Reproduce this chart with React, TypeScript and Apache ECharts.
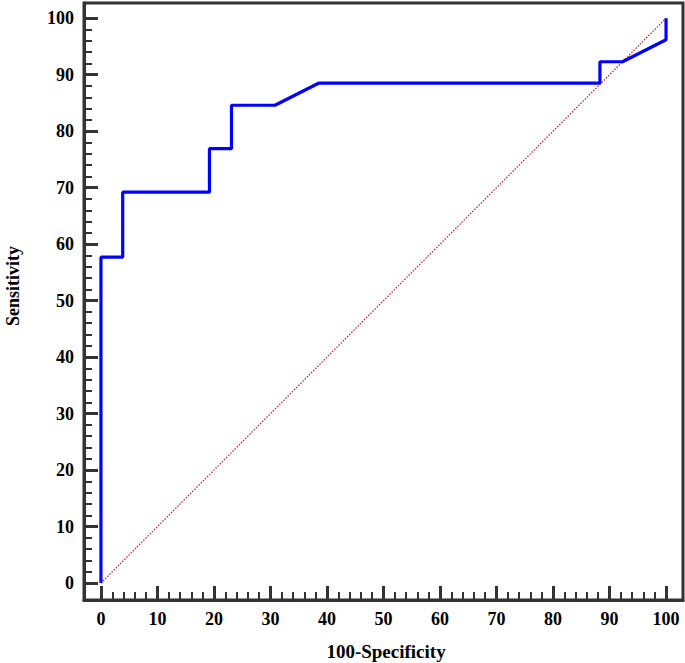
import React, { useEffect, useRef } from "react";
import * as echarts from "echarts";

const rocFpr = [0, 0, 3.85, 3.85, 19.2, 19.2, 23.1, 23.1, 30.8, 38.5, 88.3, 88.3, 92.3, 100, 100];
const rocTpr = [0, 57.7, 57.7, 69.2, 69.2, 76.9, 76.9, 84.6, 84.6, 88.5, 88.5, 92.3, 92.3, 96.2, 100];
const diagX = [0, 100];
const diagY = [0, 100];
const majorTicks = [0, 10, 20, 30, 40, 50, 60, 70, 80, 90, 100];
const minorTicks = [2, 4, 6, 8, 12, 14, 16, 18, 22, 24, 26, 28, 32, 34, 36, 38, 42, 44, 46, 48, 52, 54, 56, 58, 62, 64, 66, 68, 72, 74, 76, 78, 82, 84, 86, 88, 92, 94, 96, 98];
const xTitle = "100-Specificity";
const yTitle = "Sensitivity";

const FONT = "'Liberation Serif', 'Times New Roman', serif";
const AXC = "#333333";

export default function App() {
  const ref = useRef<HTMLDivElement>(null);
  useEffect(() => {
    document.body.style.margin = "0";
    const chart = echarts.init(ref.current!, undefined, { renderer: "svg" });
    const labelStyle = {
      fontFamily: FONT,
      fontWeight: "bold" as const,
      fontSize: 18,
      color: "#000",
    };
    const mkMajor = (pos: string, isX: boolean) => ({
      type: "value",
      position: pos,
      offset: 0,
      min: -3,
      max: isX ? 103 : 102.7,
      axisLine: { show: true, onZero: false, lineStyle: { color: AXC, width: 3 } },
      axisTick: { show: true, inside: true, length: 14, customValues: majorTicks, lineStyle: { color: AXC, width: 3 } },
      axisLabel: { show: true, customValues: majorTicks, margin: 10, ...labelStyle },
      splitLine: { show: false },
    });
    const mkMinor = (pos: string, isX: boolean) => ({
      type: "value",
      position: pos,
      offset: 0,
      min: -3,
      max: isX ? 103 : 102.7,
      axisLine: { show: false, onZero: false },
      axisTick: { show: true, inside: true, length: 8, customValues: minorTicks, lineStyle: { color: AXC, width: 2 } },
      axisLabel: { show: false },
      splitLine: { show: false },
    });
    const rocData = rocFpr.map((x, i) => [x, rocTpr[i]]);
    const diagData = diagX.map((x, i) => [x, diagY[i]]);
    chart.setOption({
      animation: false,
      grid: {
        left: 84,
        right: 2,
        top: 3,
        bottom: 63,
        show: true,
        borderColor: AXC,
        borderWidth: 3,
        backgroundColor: "#fff",
      },
      xAxis: [mkMajor("bottom", true), mkMinor("bottom", true)],
      yAxis: [mkMajor("left", false), mkMinor("left", false)],
      series: [
        {
          type: "line",
          data: diagData,
          showSymbol: false,
          symbol: "none",
          lineStyle: { color: "#b83030", width: 1.3, type: [1.5, 1.5] },
          z: 2,
        },
        {
          type: "line",
          data: rocData,
          showSymbol: false,
          symbol: "none",
          lineStyle: { color: "#0000ff", width: 3.2 },
          z: 3,
        },
      ],
      graphic: [
        {
          type: "text",
          x: 386,
          y: 651,
          style: {
            text: xTitle,
            fontFamily: FONT,
            fontWeight: "bold",
            fontSize: 19,
            fill: "#000",
            align: "center",
            verticalAlign: "middle",
          },
        },
        {
          type: "text",
          x: 13,
          y: 286,
          rotation: Math.PI / 2,
          style: {
            text: yTitle,
            fontFamily: FONT,
            fontWeight: "bold",
            fontSize: 18,
            fill: "#000",
            align: "center",
            verticalAlign: "middle",
          },
        },
      ],
    });
    return () => chart.dispose();
  }, []);
  return <div ref={ref} style={{ width: 685, height: 663 }} />;
}
